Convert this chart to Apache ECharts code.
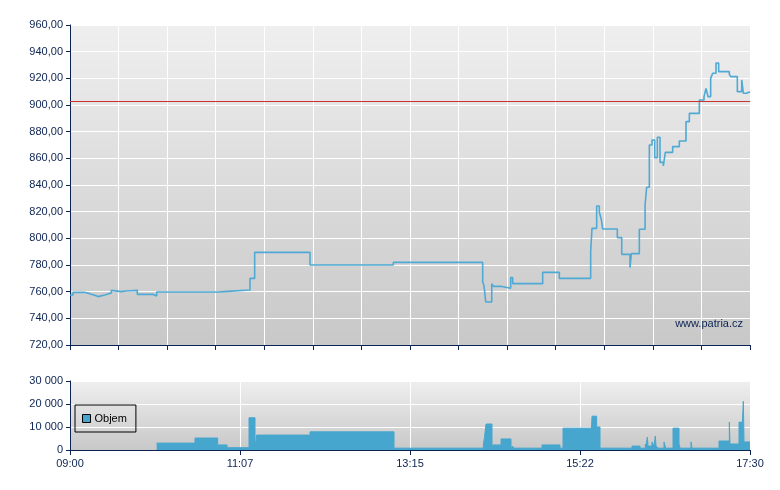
<!DOCTYPE html>
<html>
<head>
<meta charset="utf-8">
<script src="https://cdn.jsdelivr.net/npm/echarts@6/dist/echarts.min.js"></script>
<style>html,body{margin:0;padding:0;background:#fff}#c{width:780px;height:490px}</style>
</head>
<body>
<div id="c"></div>
<script>
// Minutes since 09:00 at which the price changes, and the price from then on
const priceTimes = [0, 2.25, 11, 16, 18.5, 21, 26, 31, 32, 38.5, 42, 50.5, 62, 65, 111, 118, 135, 138.5, 180, 242.5, 309.5, 310.5, 311.8, 316.3, 317.5, 323, 330.5, 332, 354.5, 367, 390.5, 391.5, 395, 397, 398.5, 399.5, 410.5, 413.8, 420, 421, 427, 431.3, 432.5, 434.5, 436.5, 438.5, 440.5, 442.5, 445, 446.5, 452, 457, 462, 464.5, 472, 475.5, 477, 478.5, 480.5, 482, 484.5, 486.5, 494.5, 495.5, 500.5, 503.8, 505, 507.5, 510];
const priceValues = [757.5, 759.5, 758, 757.3, 756.3, 757.5, 759, 761, 760, 760.5, 761, 758, 756.8, 759.7, 760.2, 761.3, 770, 789.5, 780, 782, 767.5, 764.5, 752.3, 766, 764, 762.5, 770.5, 766, 774.5, 770, 790, 807.5, 824.3, 819.5, 814, 807, 800.5, 788, 778, 788.5, 806.8, 825, 838.3, 870, 873.7, 860.5, 875.8, 857, 854.3, 864.5, 868.8, 873, 887.5, 893.7, 903.7, 906.3, 912.5, 906.3, 920, 923.8, 931.5, 925, 923, 921.3, 910, 918.8, 908.8, 910, 910];
// Previous close reference line
const referencePrice = [903];
// Volume: minutes since 09:00 and the volume from then on (no trades before the first time)
const volTimes = [65, 93.75, 110.75, 117.75, 134.25, 138.75, 140, 180, 243, 310, 310.75, 312, 316.5, 317.25, 323.25, 330.75, 332, 332.75, 354, 367.5, 369.75, 390.75, 391.5, 395, 397.5, 421.5, 427.5, 431.5, 432, 433, 433.5, 436.5, 438, 439, 439.5, 441, 445.5, 446.75, 452.25, 456.75, 457.5, 465.75, 466.5, 486.75, 494.5, 495, 501.75, 504, 505, 505.5, 510];
const volValues = [3000, 5200, 2200, 1000, 14000, 1000, 6500, 7900, 800, 2200, 5000, 11300, 800, 2200, 4800, 800, 1700, 800, 2200, 800, 9500, 4800, 14700, 10000, 800, 1700, 800, 2600, 1700, 5600, 1700, 3500, 1700, 6100, 1700, 800, 3500, 800, 9500, 2600, 800, 3500, 800, 3900, 12100, 2600, 12100, 8200, 21200, 3500, 3500];
const sessionStart = [9, 0];
const sessionLength = [510];
const priceRange = [720, 960, 20];
const volRange = [0, 30000, 10000];
const seriesNames = ['Objem'];
const watermark = ['www.patria.cz'];

const navy = '#0c2352';
const font = 'Liberation Sans, Arial, sans-serif';
const bg = {type: 'linear', x: 0, y: 0, x2: 0, y2: 1, colorStops: [{offset: 0, color: '#efefef'}, {offset: 1, color: '#c8c8c8'}]};

function fmtTime(m) {
  const t = sessionStart[0] * 60 + sessionStart[1] + Math.floor(m + 1e-6);
  const h = Math.floor(t / 60), mm = t % 60;
  return (h < 10 ? '0' : '') + h + ':' + (mm < 10 ? '0' : '') + mm;
}
const axisCommon = {
  axisLine: {show: true, lineStyle: {color: navy, width: 1}},
  axisTick: {show: true, length: 5, lineStyle: {color: navy, width: 1}},
  axisLabel: {color: navy, fontSize: 11, fontFamily: font},
  splitLine: {show: true, lineStyle: {color: '#ffffff', width: 1}}
};

const chart = echarts.init(document.getElementById('c'), null, {renderer: 'canvas'});
chart.setOption({
  animation: false,
  backgroundColor: '#ffffff',
  grid: [
    {left: 70, right: 30, top: 25, height: 320, show: true, backgroundColor: bg, borderWidth: 0},
    {left: 70, right: 30, top: 381, height: 69, show: true, backgroundColor: bg, borderWidth: 0}
  ],
  xAxis: [
    Object.assign({}, axisCommon, {gridIndex: 0, type: 'value', min: 0, max: sessionLength[0], interval: sessionLength[0] / 14,
      axisLabel: {show: false}}),
    Object.assign({}, axisCommon, {gridIndex: 1, type: 'value', min: 0, max: sessionLength[0], interval: sessionLength[0] / 4,
      axisLabel: Object.assign({}, axisCommon.axisLabel, {margin: 8, formatter: fmtTime})})
  ],
  yAxis: [
    Object.assign({}, axisCommon, {gridIndex: 0, type: 'value', min: priceRange[0], max: priceRange[1], interval: priceRange[2],
      axisTick: {show: true, length: 4, inside: false, lineStyle: {color: navy}},
      axisLabel: Object.assign({}, axisCommon.axisLabel, {margin: 7, formatter: v => v.toFixed(2).replace('.', ',')})}),
    Object.assign({}, axisCommon, {gridIndex: 1, type: 'value', min: volRange[0], max: volRange[1], interval: volRange[2],
      axisTick: {show: true, length: 4, lineStyle: {color: navy}},
      axisLabel: Object.assign({}, axisCommon.axisLabel, {margin: 7, formatter: v => String(v).replace(/\B(?=(\d{3})+(?!\d))/g, ' ')})})
  ],
  legend: {
    data: [{name: seriesNames[0], icon: 'rect'}],
    left: 75, top: 405, orient: 'vertical',
    padding: [8, 9, 8, 7],
    borderColor: '#000', borderWidth: 1,
    itemWidth: 8, itemHeight: 8, itemGap: 5,
    itemStyle: {borderColor: '#000', borderWidth: 1},
    textStyle: {color: '#000', fontSize: 11, fontFamily: font, padding: [0, 0, 0, -1]}
  },
  graphic: [{
    type: 'text', right: 37, top: 318, z: 10,
    style: {text: watermark[0], fill: navy, font: '11px ' + font}
  }],
  series: [
    {
      name: 'Cena', type: 'line', xAxisIndex: 0, yAxisIndex: 0, step: 'end',
      showSymbol: false, symbol: 'none', z: 3,
      lineStyle: {color: '#4fa9d4', width: 1.6},
      data: priceTimes.map((t, i) => [t, priceValues[i]]),
      markLine: {
        silent: true, symbol: 'none', label: {show: false},
        lineStyle: {color: '#c83232', width: 1, type: 'solid'},
        data: [{yAxis: referencePrice[0]}]
      }
    },
    {
      name: seriesNames[0], type: 'line', xAxisIndex: 1, yAxisIndex: 1, step: 'end',
      showSymbol: false, symbol: 'none',
      itemStyle: {color: '#47a6ce', borderColor: '#000', borderWidth: 1},
      lineStyle: {width: 1, color: '#47a6ce'},
      areaStyle: {color: '#47a6ce', opacity: 1},
      data: volTimes.map((t, i) => [t, volValues[i]])
    }
  ]
});
</script>
</body>
</html>
